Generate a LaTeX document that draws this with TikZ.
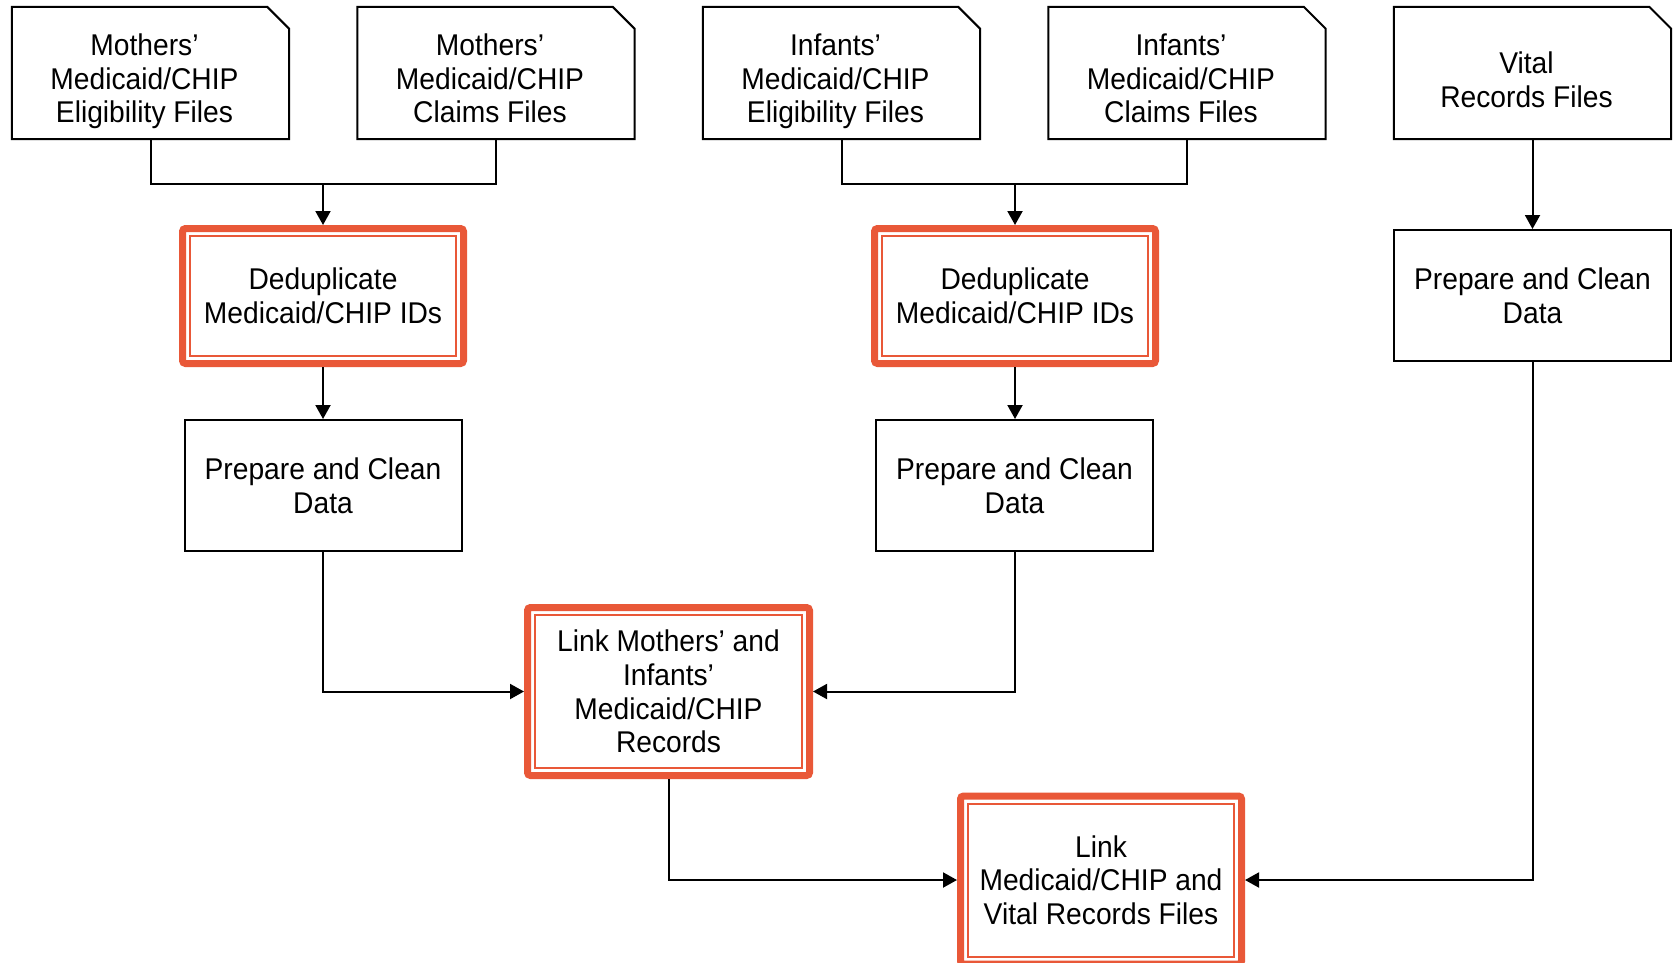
\documentclass[tikz,border=0pt]{standalone}
\usepackage{fontspec}
\setmainfont{Liberation Sans}[FakeStretch=0.94]
\usetikzlibrary{calc,arrows.meta}
\definecolor{orng}{RGB}{233,88,56}
\tikzset{
  txt/.style={font=\fontsize{30}{33.6}\selectfont, align=center, inner sep=0pt},
  docbox/.style={draw=none, minimum width=277, minimum height=132, inner sep=0pt},
  plainbox/.style={txt, draw=black, line width=2pt, minimum width=277, minimum height=131},
  redbox/.style={txt, draw=orng, line width=7pt, rounded corners=3pt, minimum width=281, minimum height=135},
  redinner/.style={draw=orng, line width=2pt},
  docline/.style={draw=black, line width=2pt, line join=miter},
  conn/.style={draw=black, line width=2pt},
  arr/.style={conn, -{Triangle[width=15pt,length=14pt]}},
}
\begin{document}
\begin{tikzpicture}[x=1pt,y=-1pt]
\useasboundingbox (0,0) rectangle (1675,962);
\fill[white] (0,0) rectangle (1675,962);

% document source boxes
\node[docbox] (m1) at (150.5,73) {};
\node[docbox] (m2) at (496,73) {};
\node[docbox] (i1) at (841.5,73) {};
\node[docbox] (i2) at (1187,73) {};
\node[docbox] (v)  at (1532.5,73) {};
\foreach \n in {m1,m2,i1,i2,v}{
  \draw[docline] (\n.south west) -- (\n.north west) -- ($(\n.north east)+(-22,0)$)
    -- ($(\n.north east)+(0,22)$) -- (\n.south east) -- cycle;
}
\node[txt] (tm1) at ($(m1)+(-6,8.5)$) {Mothers’\\Medicaid/CHIP\\Eligibility Files};
\node[txt] (tm2) at ($(m2)+(-6,5.5)$) {Mothers’\\Medicaid/CHIP\\Claims Files};
\node[txt] (ti1) at ($(i1)+(-6,8.5)$) {Infants’\\Medicaid/CHIP\\Eligibility Files};
\node[txt] (ti2) at ($(i2)+(-6,5.5)$) {Infants’\\Medicaid/CHIP\\Claims Files};
\node[txt] (tv)  at ($(v)+(-6,6.5)$) {Vital\\Records Files};

% process boxes
\node[redbox] (dd1) at (323,296) {Deduplicate\\Medicaid/CHIP IDs};
\node[redbox] (dd2) at (1015,296) {Deduplicate\\Medicaid/CHIP IDs};
\node[plainbox] (pc1) at (323,485.5) {Prepare and Clean\\Data};
\node[plainbox] (pc2) at (1014.5,485.5) {Prepare and Clean\\Data};
\node[plainbox] (vp) at (1532.5,295.5) {Prepare and Clean\\Data};
\node[redbox, minimum width=282, minimum height=168] (lm) at (668.5,691.5)
  {Link Mothers’ and\\Infants’\\Medicaid/CHIP\\Records};
\node[redbox, minimum width=281, minimum height=168] (lf) at (1101,880)
  {Link\\Medicaid/CHIP and\\Vital Records Files};
\foreach \n in {dd1,dd2,lm,lf}{
  \draw[redinner] ($(\n.north west)+(11,11)$) rectangle ($(\n.south east)+(-11,-11)$);
}

% connectors
\coordinate (j1) at (323,184);
\coordinate (j2) at (1015,184);
\draw[conn] (m1.south) |- (j1);
\draw[conn] (m2.south) |- (j1);
\draw[arr] (j1) -- (dd1.north);
\draw[conn] (i1.south) |- (j2);
\draw[conn] (i2.south) |- (j2);
\draw[arr] (j2) -- (dd2.north);
\draw[arr] (v.south) -- (vp.north);
\draw[arr] (dd1.south) -- (pc1.north);
\draw[arr] (dd2.south) -- (pc2.north -| dd2.south);
\draw[arr] (pc1.south) |- (lm.west);
\draw[arr] (pc2.south) |- (lm.east);
\draw[arr] (lm.south) |- (lf.west);
\draw[arr] (vp.south) |- (lf.east);
\end{tikzpicture}
\end{document}
